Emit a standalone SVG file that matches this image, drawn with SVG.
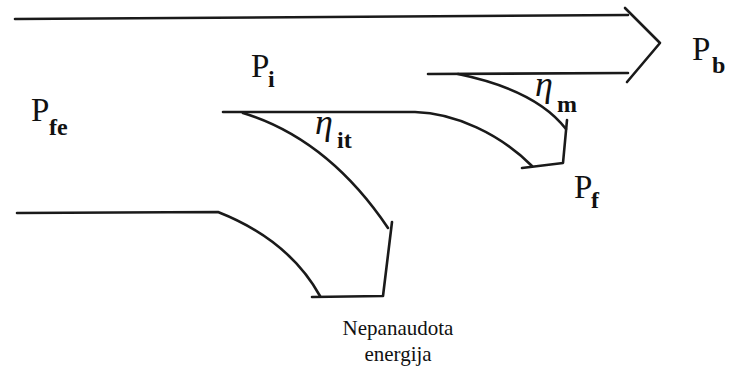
<svg xmlns="http://www.w3.org/2000/svg" width="739" height="371" viewBox="0 0 739 371">
<style>
.ln{fill:none;stroke:#1a1a1a;stroke-width:2.6;stroke-linecap:round;stroke-linejoin:round}
.P{font-size:33px}
.s{font-size:24px;font-weight:bold}
.eta{font-size:36px;font-style:italic}
.cap{font-size:21px}
</style>
<rect width="739" height="371" fill="#fff"/>
<g id="connectors">
<path class="ln" d="M15,19 L628,15"/>
<path class="ln" d="M625,8 L660,43 L627,82"/>
<path class="ln" d="M428,74 L628,73"/>
<path class="ln" d="M458,74 Q536,90 566,129"/>
<path class="ln" d="M567,120 L563,163 L522,168"/>
<path class="ln" d="M223,112 L415,112 C455,113 500,134 532,166"/>
<path class="ln" d="M243,113 Q328,139 388,228"/>
<path class="ln" d="M392,222 L383,296 L312,297"/>
<path class="ln" d="M17,213 L218,212 Q289,240 320,296"/>
</g>
<g font-family="Liberation Serif, serif" fill="#111">
<g id="Pb"><text class="P" x="692" y="60">P</text><text class="s" x="712" y="73">b</text></g>
<g id="Pi"><text class="P" x="251" y="77">P</text><text class="s" x="268" y="87">i</text></g>
<g id="Pfe"><text class="P" x="31" y="121">P</text><text class="s" x="49" y="135">fe</text></g>
<g id="Pf"><text class="P" x="574" y="198">P</text><text class="s" x="591" y="208">f</text></g>
<g id="eta_m"><text class="eta" x="535" y="96">η</text><text class="s" x="557" y="112">m</text></g>
<g id="eta_it"><text class="eta" x="315" y="134">η</text><text class="s" x="337" y="148">it</text></g>
<g id="unused"><text class="cap" x="398" y="335" text-anchor="middle">Nepanaudota</text><text class="cap" x="398" y="361" text-anchor="middle">energija</text></g>
</g>
</svg>
